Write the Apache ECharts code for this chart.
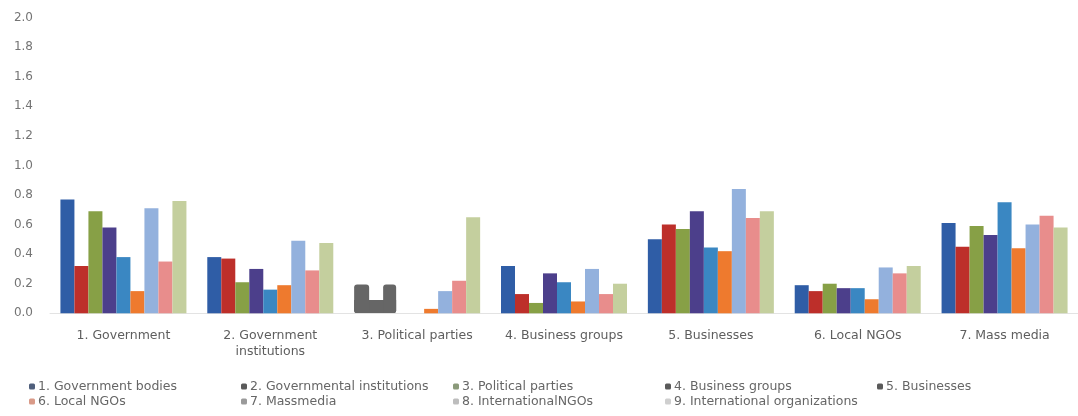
<!DOCTYPE html>
<html>
<head>
<meta charset="utf-8">
<script src="https://cdn.jsdelivr.net/npm/echarts@6/dist/echarts.min.js"></script>
<style>
  html, body { margin: 0; padding: 0; background: #ffffff; }
  #chart { width: 1078px; height: 416px; }
</style>
</head>
<body>
<div id="chart"></div>
<script>
// Actor groups along the x axis
const categories = [
  '1. Government',
  '2. Government\ninstitutions',
  '3. Political parties',
  '4. Business groups',
  '5. Businesses',
  '6. Local NGOs',
  '7. Mass media'
];

// Series names as listed in the legend
const seriesNames = [
  '1. Government bodies',
  '2. Governmental institutions',
  '3. Political parties',
  '4. Business groups',
  '5. Businesses',
  '6. Local NGOs',
  '7. Massmedia',
  '8. InternationalNGOs',
  '9. International organizations'
];

// Values per series, one per actor group
const governmentBodies        = [0.77, 0.38, null, 0.32, 0.50, 0.19, 0.61];
const governmentalInstitutions= [0.32, 0.37, null, 0.13, 0.60, 0.15, 0.45];
const politicalParties        = [0.69, 0.21, null, 0.07, 0.57, 0.20, 0.59];
const businessGroups          = [0.58, 0.30, null, 0.27, 0.69, 0.17, 0.53];
const businesses              = [0.38, 0.16, null, 0.21, 0.445, 0.17, 0.75];
const localNGOs               = [0.15, 0.19, 0.03, 0.08, 0.42, 0.095, 0.44];
const massMedia               = [0.71, 0.49, 0.15, 0.30, 0.84, 0.31, 0.60];
const internationalNGOs       = [0.35, 0.29, 0.22, 0.13, 0.645, 0.27, 0.66];
const internationalOrgs       = [0.76, 0.475, 0.65, 0.20, 0.69, 0.32, 0.58];

const seriesValues = [
  governmentBodies, governmentalInstitutions, politicalParties,
  businessGroups, businesses, localNGOs, massMedia,
  internationalNGOs, internationalOrgs
];

// Y axis ticks
const yTicks = [0, 0.2, 0.4, 0.6, 0.8, 1.0, 1.2, 1.4, 1.6, 1.8, 2.0];

const barColors = [
  '#2f5da6', '#bd2f2a', '#87a046', '#4c3f8b', '#3a87c2',
  '#ee7a2e', '#93b1dd', '#e88d8c', '#c4cf9e'
];
const legendIconColors = [
  '#4f5f7c', '#5a5a5a', '#8b9a7a', '#5a5a5a', '#5a5a5a',
  '#d99a88', '#9a9a9a', '#bdbdbd', '#cfcfcf'
];

const FONT = 'DejaVu Sans, Verdana, sans-serif';

const chart = echarts.init(document.getElementById('chart'));

// Legend laid out as five equal-width columns of up to two rows
const legendColumns = [[0, 5], [1, 6], [2, 7], [3, 8], [4]];
const legendLeft = [29, 241, 453, 665, 877];

const legends = legendColumns.map((idxs, c) => ({
  orient: 'vertical',
  left: legendLeft[c],
  top: 380,
  itemWidth: 6,
  itemHeight: 6,
  itemGap: 2,
  padding: 0,
  icon: 'roundRect',
  textStyle: { color: '#666666', fontSize: 12.5, fontFamily: FONT, padding: [0, 0, 0, -2] },
  data: idxs.map(i => ({ name: seriesNames[i], itemStyle: { color: legendIconColors[i] } }))
}));

chart.setOption({
  animation: false,
  backgroundColor: '#ffffff',
  textStyle: { fontFamily: FONT },
  grid: { left: 50, top: 17.5, width: 1034.6, height: 295.8, containLabel: false },
  legend: legends,
  xAxis: {
    type: 'category',
    data: categories,
    axisLine: { show: true, lineStyle: { color: '#e3e3e3', width: 1 } },
    axisTick: { show: false },
    axisLabel: {
      color: '#5e5e5e', fontSize: 12.5, fontFamily: FONT,
      margin: 14, lineHeight: 16, interval: 0
    }
  },
  yAxis: {
    type: 'value',
    min: 0, max: 2.0, interval: 0.2,
    axisLine: { show: false },
    axisTick: { show: false },
    splitLine: { show: false },
    axisLabel: {
      color: '#747474', fontSize: 12, fontFamily: FONT, margin: 17,
      formatter: v => {
        const t = yTicks.find(x => Math.abs(x - v) < 1e-6);
        return t === undefined ? '' : t.toFixed(1);
      }
    }
  },
  series: seriesValues.map((vals, i) => ({
    name: seriesNames[i],
    type: 'bar',
    data: vals,
    barWidth: 14,
    barGap: '0%',
    itemStyle: { color: barColors[i] }
  }))
});

// Grey cover block over the first three bars of the political parties group
(function drawCover() {
  const cx = chart.convertToPixel({ xAxisIndex: 0 }, categories[2]);
  const left = cx - 63;
  const w = 14;
  const base = chart.convertToPixel({ yAxisIndex: 0 }, 0);
  const high = chart.convertToPixel({ yAxisIndex: 0 }, 0.195);
  const low = chart.convertToPixel({ yAxisIndex: 0 }, 0.09);
  const fill = { fill: '#666666' };
  chart.setOption({
    graphic: [{
      type: 'group',
      z: 100,
      children: [
        { type: 'rect', shape: { x: left, y: low, width: 3 * w, height: base - low, r: [0, 0, 3, 3] }, style: fill },
        { type: 'rect', shape: { x: left, y: high, width: w + 1, height: base - high, r: [3, 3, 0, 3] }, style: fill },
        { type: 'rect', shape: { x: left + 2 * w + 1, y: high, width: w - 1, height: base - high, r: [3, 3, 3, 0] }, style: fill }
      ]
    }]
  });
})();
</script>
</body>
</html>
